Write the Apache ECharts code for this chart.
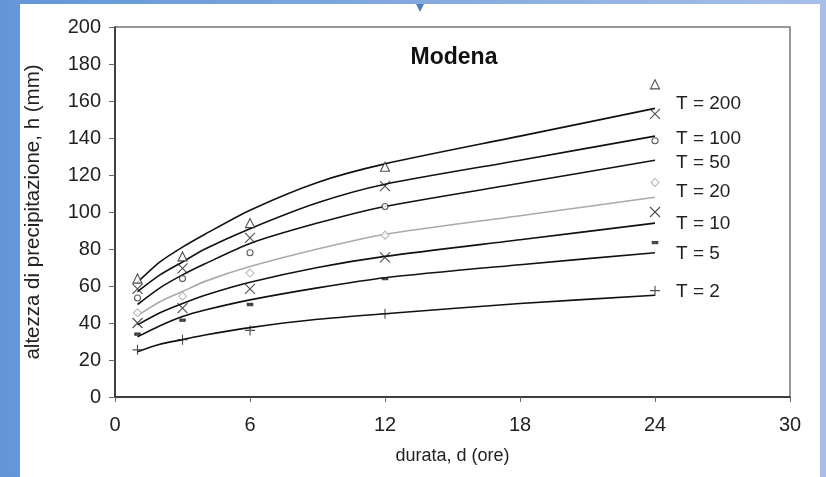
<!DOCTYPE html>
<html>
<head>
<meta charset="utf-8">
<script src="https://cdn.jsdelivr.net/npm/echarts@6/dist/echarts.min.js"></script>
<style>
html,body{margin:0;padding:0;width:826px;height:477px;overflow:hidden;
background:linear-gradient(to right,#6396d8 0%,#82a9df 50%,#a7bfe8 100%);}
#panel{position:absolute;left:20px;top:4px;width:800px;height:473px;background:#fff;}
#tip{position:absolute;left:416px;top:4px;width:0;height:0;border-left:4px solid transparent;
border-right:4px solid transparent;border-top:8px solid #4f7fc8;}
#chart{position:absolute;left:0;top:0;width:826px;height:477px;}
</style>
</head>
<body>
<div id="panel"></div>
<div id="tip"></div>
<div id="chart"></div>
<script>
// durations (hours) at which the fitted curves are read
const curveDurations = [1, 2, 3, 4, 6, 9, 12, 18, 24];
// durations of the observed points
const obsDurations = [1, 3, 6, 12, 24];
const returnPeriods = [200, 100, 50, 20, 10, 5, 2];

// fitted curves, h (mm)
const curve_T200 = [62, 73, 81, 88, 101, 116, 126, 141, 156];
const curve_T100 = [57, 66, 73, 80, 91, 105, 115, 128, 141];
const curve_T50  = [50, 59, 66, 72, 83, 94, 103, 115.5, 128];
const curve_T20  = [44, 51.5, 57, 62.5, 70.5, 80, 88, 98, 108];
const curve_T10  = [39, 45.5, 50.5, 55, 62, 70, 76, 85, 94];
const curve_T5   = [32.5, 38.5, 43.5, 47, 52.5, 59, 64.5, 71.5, 78];
const curve_T2   = [24.5, 28.5, 31, 33.5, 37.5, 42, 45, 50.5, 55];

// observed values, h (mm)
const obs_T200 = [64, 76, 94, 124.5, 169];
const obs_T100 = [58.5, 69.5, 86, 114, 153];
const obs_T50  = [53.5, 64, 78, 103, 138.5];
const obs_T20  = [45.5, 54.5, 67, 87.5, 116];
const obs_T10  = [40, 48, 58.5, 75.5, 100];
const obs_T5   = [34, 41.5, 50, 64, 83.5];
const obs_T2   = [25.5, 31, 36, 45, 57.5];

const xTicks = [0, 6, 12, 18, 24, 30];
const yTicks = [0, 20, 40, 60, 80, 100, 120, 140, 160, 180, 200];

const curves = [curve_T200, curve_T100, curve_T50, curve_T20, curve_T10, curve_T5, curve_T2];
const obs = [obs_T200, obs_T100, obs_T50, obs_T20, obs_T10, obs_T5, obs_T2];

const FONT = "'Liberation Sans', Arial, sans-serif";
const CROSS = 'path://M0,0L10,10M10,0L0,10';
const PLUS = 'path://M5,0L5,10M0,5L10,5';
const styles = [
  {sym: 'triangle', size: 9, line: '#111', mark: '#222', fill: '#fff', dy: -5},
  {sym: CROSS, size: 10, line: '#111', mark: '#222', fill: 'transparent', dy: 3},
  {sym: 'circle', size: 6, line: '#111', mark: '#333', fill: '#fff', dy: 3},
  {sym: 'diamond', size: 8, line: '#aaa', mark: '#aaa', fill: '#fff', dy: -5},
  {sym: CROSS, size: 10, line: '#111', mark: '#222', fill: 'transparent', dy: 1},
  {sym: 'rect', size: [5, 2.5], line: '#111', mark: '#222', fill: '#222', dy: 1},
  {sym: PLUS, size: 10, line: '#111', mark: '#222', fill: 'transparent', dy: -3}
];

const series = [];
returnPeriods.forEach((T, i) => {
  const st = styles[i];
  series.push({
    type: 'line', name: 'T = ' + T,
    data: curveDurations.map((d, k) => [d, curves[i][k]]),
    symbol: 'none', smooth: 0.25,
    lineStyle: {color: st.line, width: 1.6},
    endLabel: {show: true, formatter: 'T = ' + T, color: '#222',
      fontFamily: FONT, fontSize: 19, distance: 0, offset: [21, st.dy]},
    z: 2
  });
  series.push({
    type: 'scatter', name: 'obs T = ' + T,
    data: obsDurations.map((d, k) => [d, obs[i][k]]),
    symbol: st.sym, symbolSize: st.size,
    itemStyle: {color: st.fill, borderColor: st.mark, borderWidth: 1.1},
    z: 3
  });
});

const chart = echarts.init(document.getElementById('chart'));
chart.setOption({
  animation: false,
  backgroundColor: 'transparent',
  title: {text: 'Modena', left: 449, top: 41, textAlign: 'center',
    textStyle: {fontFamily: FONT, fontSize: 23, fontWeight: 'bold', color: '#111'}},
  grid: {left: 115, right: 36, top: 27, bottom: 80, show: true,
    borderColor: '#777', borderWidth: 1.5, backgroundColor: 'transparent'},
  xAxis: {type: 'value', min: 0, max: 30, interval: 6,
    name: 'durata, d (ore)', nameLocation: 'middle', nameGap: 50,
    nameTextStyle: {fontFamily: FONT, fontSize: 18, color: '#222'},
    axisLine: {lineStyle: {color: '#222', width: 1.5}},
    axisTick: {show: true, length: 5, lineStyle: {color: '#666'}},
    axisLabel: {fontFamily: FONT, fontSize: 20, color: '#222', margin: 18,
      formatter: v => xTicks.includes(v) ? String(v) : ''},
    splitLine: {show: false}},
  yAxis: {type: 'value', min: 0, max: 200, interval: 20,
    name: 'altezza di precipitazione, h (mm)', nameLocation: 'middle', nameGap: 71,
    nameTextStyle: {fontFamily: FONT, fontSize: 20.5, color: '#222'},
    axisLine: {show: true, lineStyle: {color: '#222', width: 1.5}},
    axisTick: {show: true, length: 6, lineStyle: {color: '#666'}},
    axisLabel: {fontFamily: FONT, fontSize: 20, color: '#222', margin: 14,
      formatter: v => yTicks.includes(v) ? String(v) : ''},
    splitLine: {show: false}},
  series: series
});
</script>
</body>
</html>
